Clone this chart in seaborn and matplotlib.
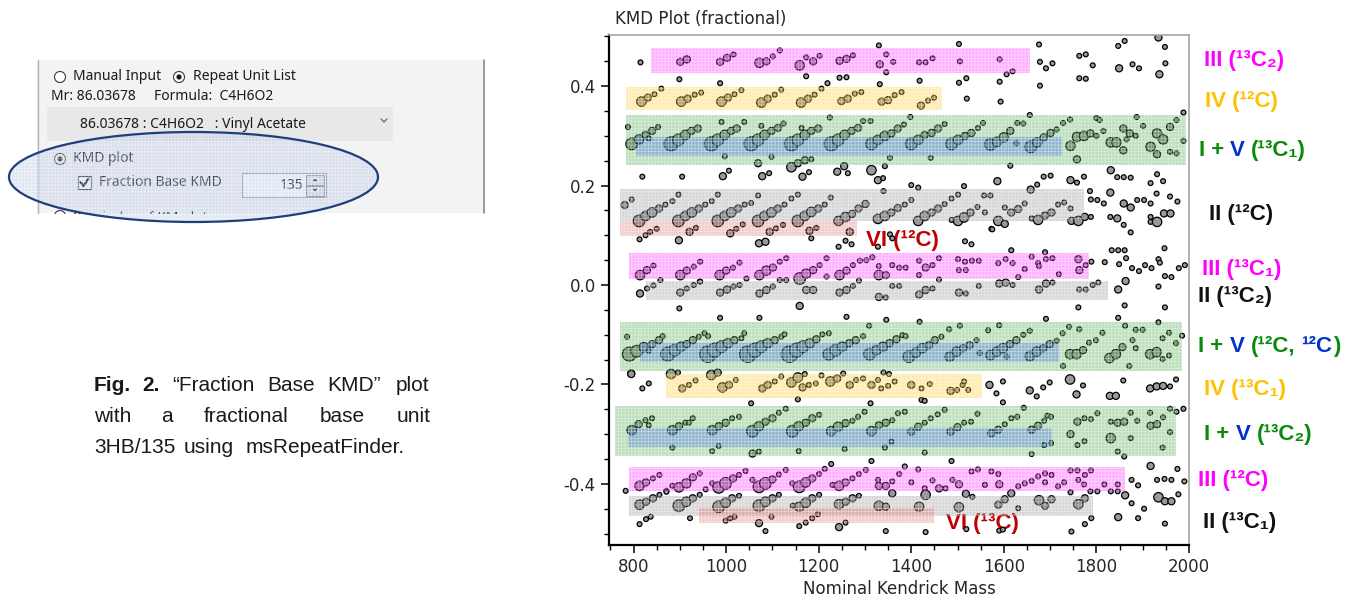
import matplotlib
matplotlib.use("Agg")
import matplotlib.pyplot as plt
import pandas as pd
import seaborn as sns
from matplotlib.patches import Rectangle, Ellipse, Circle, Polygon
from matplotlib.offsetbox import TextArea, HPacker, DrawingArea, AnnotationBbox
from matplotlib.ticker import MultipleLocator
from matplotlib.colors import to_rgba

# peaks: (nominal Kendrick mass, KMD, size level 1..6)
iii_13c2 = [
    (815, .448, 1), (901, .449, 2), (915, .454, 2), (899, .414, 1), (987, .449, 2), (1002, .457, 2),
    (1016, .464, 1), (987, .406, 1), (1072, .447, 3), (1087, .450, 2), (1101, .460, 1), (1116, .472, 1),
    (1159, .442, 3), (1173, .458, 1), (1188, .450, 2), (1202, .461, 1), (1173, .420, 1), (1245, .451, 2),
    (1260, .455, 2), (1274, .462, 1), (1245, .417, 1), (1260, .418, 1), (1330, .482, 1), (1346, .464, 1),
    (1332, .444, 2), (1361, .449, 1), (1346, .428, 1), (1332, .404, 1), (1417, .448, 1), (1431, .448, 1),
    (1446, .456, 1), (1418, .411, 1), (1503, .485, 1), (1505, .450, 1), (1503, .407, 1), (1519, .416, 1),
    (1520, .375, 1), (1591, .454, 1), (1606, .424, 1), (1619, .430, 1), (1591, .409, 1), (1593, .369, 1),
    (1676, .484, 1), (1678, .449, 1), (1691, .436, 1), (1705, .446, 1), (1678, .401, 1), (1763, .461, 1),
    (1777, .464, 1), (1792, .442, 1), (1763, .416, 1), (1777, .415, 1), (1847, .481, 1), (1861, .491, 1),
    (1849, .436, 2), (1878, .444, 1), (1892, .436, 1), (1936, .424, 2), (1934, .498, 2), (1948, .479, 1),
    (1949, .446, 1),
]
iv_12c = [
    (817, .369, 3), (831, .377, 2), (845, .384, 1), (860, .395, 1), (903, .369, 3), (917, .375, 2),
    (932, .383, 1), (946, .387, 1), (990, .369, 3), (1004, .377, 2), (1018, .384, 1), (1033, .392, 1),
    (1076, .367, 3), (1090, .375, 2), (1105, .383, 1), (1119, .393, 1), (1162, .367, 3), (1177, .375, 2),
    (1191, .383, 1), (1206, .395, 1), (1219, .406, 1), (1249, .370, 2), (1263, .375, 2), (1278, .385, 1),
    (1292, .388, 1), (1336, .369, 2), (1350, .372, 2), (1364, .382, 1), (1379, .388, 1), (1421, .361, 2),
    (1436, .371, 1), (1449, .377, 1),
]
i_v_13c1 = [
    (788, .318, 1), (796, .284, 4), (812, .293, 3), (826, .302, 2), (833, .295, 1), (840, .310, 2),
    (853, .318, 1), (819, .218, 1), (881, .284, 5), (897, .292, 4), (912, .302, 3), (925, .310, 2),
    (939, .315, 2), (905, .218, 1), (968, .284, 5), (982, .292, 4), (997, .302, 3), (1011, .310, 2),
    (1023, .315, 2), (990, .328, 1), (1039, .328, 1), (997, .259, 1), (993, .219, 2), (1006, .230, 1),
    (1054, .284, 5), (1069, .292, 4), (1083, .302, 3), (1098, .310, 2), (1112, .316, 2), (1124, .325, 1),
    (1076, .320, 1), (1098, .258, 1), (1069, .245, 2), (1078, .219, 2), (1093, .225, 1), (1141, .284, 5),
    (1155, .292, 4), (1170, .302, 3), (1184, .310, 2), (1199, .315, 2), (1163, .316, 1), (1141, .237, 3),
    (1155, .245, 2), (1170, .251, 2), (1184, .253, 1), (1165, .218, 2), (1179, .227, 1), (1224, .337, 1),
    (1227, .284, 5), (1242, .292, 4), (1256, .302, 3), (1271, .310, 2), (1285, .316, 2), (1296, .330, 1),
    (1312, .330, 1), (1240, .228, 2), (1255, .239, 2), (1263, .225, 1), (1314, .284, 4), (1328, .292, 3),
    (1343, .300, 3), (1357, .305, 2), (1371, .315, 2), (1384, .323, 1), (1398, .338, 1), (1354, .256, 1),
    (1343, .239, 1), (1314, .231, 3), (1328, .211, 2), (1339, .215, 1), (1400, .284, 4), (1415, .292, 3),
    (1429, .302, 2), (1444, .306, 2), (1458, .315, 2), (1472, .324, 1), (1442, .256, 1), (1487, .284, 4),
    (1501, .292, 3), (1516, .300, 2), (1530, .306, 2), (1544, .316, 1), (1555, .326, 1), (1571, .283, 4),
    (1585, .288, 3), (1600, .297, 3), (1614, .310, 2), (1629, .326, 1), (1642, .325, 1), (1627, .285, 1),
    (1656, .342, 1), (1614, .240, 1), (1658, .278, 4), (1672, .287, 3), (1686, .297, 2), (1701, .306, 2),
    (1714, .313, 1), (1728, .326, 1), (1743, .333, 1), (1744, .280, 3), (1758, .298, 3), (1773, .300, 3),
    (1787, .305, 2), (1800, .300, 1), (1800, .336, 1), (1807, .332, 1), (1758, .253, 2), (1815, .310, 1),
    (1831, .287, 3), (1843, .287, 3), (1858, .315, 2), (1865, .293, 1), (1872, .305, 2), (1885, .300, 1),
    (1887, .338, 1), (1901, .320, 1), (1858, .271, 2), (1917, .278, 3), (1931, .305, 3), (1944, .293, 3),
    (1959, .318, 2), (1973, .332, 1), (1988, .347, 1), (1931, .263, 2), (1959, .268, 1), (1973, .265, 1),
    (1988, .290, 1), (1586, .209, 2), (1658, .192, 2), (1672, .202, 1), (1686, .218, 1), (1701, .220, 1),
    (1744, .211, 2), (1758, .206, 1), (1773, .218, 1), (1831, .231, 2), (1845, .217, 1), (1859, .217, 1),
    (1874, .216, 1), (1917, .205, 1), (1931, .223, 1), (1944, .209, 1),
]
ii_12c = [
    (781, .161, 2), (796, .172, 1), (812, .129, 4), (826, .139, 3), (840, .146, 3), (855, .154, 2),
    (869, .162, 1), (884, .169, 1), (897, .182, 1), (813, .092, 1), (826, .100, 1), (836, .107, 1),
    (850, .113, 1), (898, .090, 2), (897, .129, 4), (912, .139, 3), (926, .146, 3), (941, .154, 2),
    (955, .162, 1), (969, .169, 1), (982, .182, 1), (921, .107, 2), (935, .115, 1), (982, .129, 4),
    (997, .139, 3), (1011, .146, 3), (1026, .154, 2), (1040, .162, 1), (1054, .165, 1), (1069, .180, 1),
    (1009, .104, 2), (1022, .113, 1), (1036, .122, 1), (1071, .084, 2), (1085, .087, 2), (1069, .129, 4),
    (1083, .139, 3), (1098, .146, 3), (1112, .154, 2), (1126, .162, 1), (1141, .174, 1), (1155, .182, 1),
    (1094, .107, 2), (1108, .114, 1), (1123, .121, 1), (1155, .129, 4), (1170, .139, 3), (1184, .147, 3),
    (1199, .154, 2), (1213, .162, 1), (1226, .176, 1), (1180, .109, 2), (1195, .115, 1), (1184, .094, 1),
    (1243, .129, 3), (1258, .137, 3), (1272, .143, 2), (1286, .154, 2), (1301, .163, 2), (1267, .107, 2),
    (1243, .077, 1), (1258, .089, 1), (1271, .082, 1), (1328, .133, 3), (1343, .139, 3), (1357, .146, 2),
    (1371, .155, 2), (1386, .162, 1), (1400, .171, 1), (1340, .189, 1), (1354, .102, 1), (1359, .094, 1),
    (1328, .077, 1), (1400, .201, 1), (1415, .196, 1), (1415, .129, 3), (1429, .139, 3), (1444, .146, 2),
    (1458, .154, 2), (1472, .163, 1), (1487, .174, 1), (1501, .182, 1), (1514, .199, 1), (1516, .088, 1),
    (1530, .082, 1), (1501, .129, 3), (1514, .136, 3), (1528, .146, 2), (1543, .157, 1), (1557, .180, 1),
    (1571, .180, 1), (1559, .146, 1), (1487, .131, 1), (1573, .113, 1), (1588, .129, 3), (1602, .123, 2),
    (1602, .156, 1), (1616, .146, 2), (1631, .153, 2), (1645, .164, 1), (1575, .112, 1), (1660, .134, 1),
    (1674, .131, 3), (1689, .140, 2), (1703, .146, 2), (1717, .162, 1), (1730, .166, 1), (1744, .154, 1),
    (1746, .129, 2), (1761, .129, 3), (1775, .137, 2), (1788, .137, 1), (1786, .189, 1), (1788, .172, 1),
    (1802, .171, 1), (1816, .164, 1), (1830, .186, 2), (1830, .137, 1), (1845, .134, 2), (1859, .164, 2),
    (1874, .156, 2), (1888, .171, 1), (1903, .171, 1), (1917, .164, 1), (1859, .121, 1), (1874, .106, 1),
    (1917, .137, 1), (1917, .127, 1), (1931, .127, 3), (1930, .184, 1), (1946, .144, 2), (1960, .144, 2),
    (1959, .178, 1), (1975, .168, 1),
]
iii_13c1 = [
    (814, .020, 3), (829, .030, 2), (843, .039, 1), (858, .010, 1), (901, .020, 3), (915, .029, 2),
    (930, .037, 1), (944, .047, 1), (943, .007, 1), (986, .020, 3), (1000, .029, 2), (1015, .035, 1),
    (1029, .045, 1), (1044, .013, 1), (1072, .020, 3), (1087, .029, 3), (1101, .035, 2), (1116, .047, 1),
    (1130, .054, 1), (1116, .010, 1), (1130, .010, 1), (1159, .013, 4), (1173, .023, 3), (1188, .030, 2),
    (1202, .040, 1), (1217, .054, 1), (1217, .017, 1), (1245, .020, 3), (1260, .029, 2), (1274, .040, 1),
    (1289, .049, 1), (1303, .050, 1), (1316, .056, 1), (1330, .020, 3), (1345, .020, 2), (1330, .038, 1),
    (1359, .040, 1), (1374, .035, 1), (1388, .035, 1), (1417, .020, 1), (1417, .049, 1), (1431, .035, 2),
    (1446, .040, 1), (1460, .054, 1), (1503, .030, 1), (1501, .052, 1), (1518, .030, 1), (1516, .047, 1),
    (1531, .049, 1), (1546, .049, 1), (1588, .044, 1), (1604, .052, 1), (1616, .070, 1), (1619, .044, 1),
    (1631, .016, 1), (1645, .032, 1), (1660, .057, 1), (1674, .044, 1), (1676, .038, 1), (1689, .066, 1),
    (1691, .052, 1), (1705, .054, 1), (1719, .022, 1), (1761, .052, 2), (1763, .030, 2), (1777, .040, 1),
    (1789, .047, 1), (1818, .046, 1), (1833, .070, 1), (1847, .070, 1), (1861, .070, 1), (1849, .042, 1),
    (1864, .054, 1), (1877, .034, 1), (1892, .028, 1), (1905, .040, 1), (1919, .034, 1), (1934, .052, 1),
    (1937, .045, 1), (1947, .074, 1), (1948, .018, 1), (1962, .016, 1), (1978, .034, 1), (1991, .040, 1),
]
ii_13c2 = [
    (814, -.017, 2), (829, -.007, 1), (843, -.001, 1), (899, -.047, 1), (901, -.015, 2), (915, -.007, 1),
    (930, .000, 1), (944, .007, 1), (987, -.015, 2), (1002, -.009, 2), (1016, -.003, 1), (1029, .000, 1),
    (987, -.066, 1), (1072, -.017, 2), (1087, -.010, 2), (1101, -.003, 1), (1159, -.042, 2), (1173, -.010, 2),
    (1188, -.010, 2), (1245, -.015, 2), (1260, -.010, 2), (1274, -.002, 1), (1287, .009, 1), (1260, -.064, 1),
    (1330, -.024, 2), (1345, -.025, 1), (1359, -.002, 1), (1374, -.002, 1), (1346, -.070, 1), (1417, -.019, 2),
    (1431, -.010, 2), (1446, -.007, 1), (1460, .011, 1), (1418, -.074, 1), (1503, -.015, 2), (1518, -.017, 1),
    (1546, -.002, 1), (1072, -.066, 1), (1590, .003, 2), (1604, .005, 2), (1619, .000, 1), (1676, -.009, 2),
    (1691, .003, 2), (1705, .005, 1), (1763, -.009, 1), (1777, -.009, 1), (1792, .000, 1), (1804, .005, 1),
    (1847, -.009, 2), (1863, .008, 2), (1934, -.003, 1), (1761, -.045, 1), (1861, -.041, 1), (1948, -.045, 1),
    (1691, -.068, 1), (1847, -.066, 1),
]
i_v_12c = [
    (786, -.104, 1), (791, -.139, 5), (807, -.133, 4), (822, -.125, 3), (833, -.132, 1), (840, -.119, 2),
    (855, -.111, 2), (863, -.103, 1), (795, -.178, 2), (874, -.139, 5), (889, -.131, 4), (903, -.124, 3),
    (915, -.119, 2), (928, -.111, 2), (941, -.104, 1), (953, -.097, 1), (961, -.103, 1), (961, -.139, 6),
    (975, -.131, 5), (990, -.124, 4), (1004, -.117, 3), (1018, -.111, 2), (1033, -.107, 1), (1039, -.097, 1),
    (1047, -.139, 6), (1062, -.131, 5), (1076, -.124, 4), (1090, -.117, 3), (1105, -.111, 2), (1119, -.104, 1),
    (1126, -.099, 1), (1137, -.139, 6), (1152, -.131, 5), (1166, -.124, 4), (1181, -.117, 3), (1195, -.109, 2),
    (1208, -.099, 1), (1222, -.097, 1), (1222, -.139, 4), (1237, -.131, 4), (1251, -.124, 3), (1266, -.117, 2),
    (1280, -.111, 2), (1296, -.103, 1), (1309, -.082, 1), (1310, -.139, 4), (1325, -.131, 3), (1339, -.124, 3),
    (1353, -.117, 2), (1368, -.109, 2), (1381, -.101, 1), (1388, -.103, 1), (1395, -.144, 4), (1410, -.136, 3),
    (1424, -.127, 3), (1438, -.121, 2), (1451, -.111, 2), (1465, -.104, 1), (1482, -.089, 1), (1505, -.082, 1),
    (1483, -.144, 3), (1498, -.134, 3), (1512, -.127, 2), (1526, -.121, 2), (1541, -.111, 1), (1548, -.137, 1),
    (1566, -.091, 1), (1590, -.081, 1), (1571, -.141, 3), (1585, -.134, 3), (1598, -.127, 3), (1613, -.119, 2),
    (1627, -.111, 2), (1642, -.100, 1), (1656, -.092, 1), (1606, -.144, 1), (1656, -.143, 3), (1671, -.134, 3),
    (1685, -.127, 2), (1699, -.119, 2), (1714, -.112, 1), (1728, -.163, 1), (1727, -.097, 1), (1741, -.084, 1),
    (1743, -.139, 3), (1757, -.139, 3), (1771, -.131, 2), (1784, -.116, 1), (1799, -.111, 1), (1763, -.089, 1),
    (1813, -.096, 1), (1828, -.147, 3), (1842, -.139, 3), (1856, -.125, 2), (1871, -.163, 1), (1878, -.111, 1),
    (1885, -.090, 1), (1900, -.090, 1), (1862, -.082, 1), (1885, -.127, 1), (1916, -.139, 3), (1930, -.135, 3),
    (1943, -.149, 1), (1957, -.142, 1), (1943, -.107, 1), (1957, -.096, 1), (1934, -.075, 1), (1972, -.117, 1),
    (1985, -.102, 1),
]
iv_13c1 = [
    (795, -.179, 2), (819, -.208, 1), (833, -.198, 1), (881, -.179, 3), (896, -.176, 1), (905, -.208, 2),
    (920, -.201, 1), (934, -.192, 1), (968, -.181, 3), (982, -.176, 2), (992, -.206, 3), (1006, -.201, 2),
    (1021, -.191, 1), (1054, -.238, 1), (1078, -.208, 2), (1090, -.201, 2), (1105, -.194, 1), (1119, -.184, 1),
    (1141, -.196, 3), (1155, -.186, 3), (1165, -.206, 2), (1179, -.201, 1), (1194, -.198, 1), (1170, -.179, 1),
    (1155, -.230, 1), (1206, -.182, 1), (1225, -.194, 3), (1240, -.188, 2), (1253, -.178, 1), (1267, -.201, 2),
    (1281, -.191, 1), (1296, -.188, 1), (1314, -.201, 2), (1328, -.191, 1), (1340, -.176, 1), (1352, -.179, 1),
    (1335, -.208, 1), (1350, -.203, 1), (1364, -.194, 1), (1400, -.201, 2), (1422, -.208, 1), (1422, -.231, 1),
    (1429, -.233, 1), (1440, -.199, 1), (1485, -.213, 2), (1499, -.211, 1), (1511, -.201, 1), (1514, -.194, 1),
    (1523, -.211, 1), (1569, -.201, 2), (1584, -.218, 1), (1312, -.238, 1), (1598, -.194, 1), (1598, -.236, 1),
    (1656, -.212, 2), (1671, -.224, 1), (1685, -.206, 1), (1699, -.196, 1), (1743, -.190, 3), (1757, -.220, 2),
    (1771, -.202, 1), (1829, -.223, 2), (1842, -.223, 2), (1858, -.192, 1), (1916, -.208, 2), (1930, -.204, 2),
    (1944, -.203, 2), (1959, -.204, 1), (1972, -.190, 1),
]
i_v_13c2 = [
    (796, -.292, 3), (811, -.280, 2), (826, -.272, 1), (833, -.282, 1), (840, -.268, 1), (884, -.292, 3),
    (898, -.284, 2), (912, -.277, 1), (920, -.277, 1), (928, -.268, 1), (884, -.327, 1), (970, -.292, 3),
    (984, -.284, 2), (999, -.277, 2), (1013, -.268, 1), (1028, -.265, 1), (970, -.334, 1), (984, -.324, 1),
    (1057, -.294, 4), (1071, -.284, 3), (1085, -.275, 2), (1100, -.268, 2), (1114, -.257, 1), (1129, -.249, 1),
    (1057, -.339, 2), (1071, -.335, 1), (1143, -.294, 4), (1157, -.284, 3), (1172, -.277, 2), (1186, -.268, 2),
    (1201, -.261, 1), (1157, -.334, 1), (1227, -.294, 3), (1242, -.285, 3), (1258, -.278, 2), (1273, -.273, 1),
    (1285, -.265, 1), (1299, -.255, 1), (1256, -.330, 1), (1314, -.294, 3), (1330, -.282, 2), (1345, -.277, 2),
    (1359, -.272, 1), (1371, -.258, 1), (1386, -.255, 1), (1343, -.327, 1), (1357, -.315, 1), (1400, -.295, 2),
    (1415, -.285, 2), (1429, -.277, 1), (1442, -.268, 1), (1457, -.260, 1), (1472, -.251, 1), (1429, -.337, 1),
    (1485, -.295, 2), (1500, -.286, 2), (1514, -.277, 1), (1529, -.275, 1), (1543, -.259, 1), (1487, -.354, 1),
    (1573, -.298, 2), (1588, -.291, 2), (1602, -.280, 1), (1616, -.268, 1), (1629, -.265, 1), (1643, -.247, 1),
    (1660, -.291, 2), (1674, -.283, 2), (1687, -.273, 1), (1694, -.263, 1), (1702, -.265, 1), (1687, -.322, 1),
    (1702, -.318, 1), (1660, -.340, 1), (1744, -.300, 2), (1759, -.275, 2), (1774, -.268, 1), (1788, -.270, 1),
    (1802, -.258, 1), (1759, -.322, 1), (1774, -.314, 1), (1831, -.308, 3), (1846, -.277, 2), (1860, -.275, 2),
    (1831, -.275, 1), (1874, -.308, 1), (1846, -.335, 1), (1860, -.345, 1), (1874, -.257, 1), (1888, -.273, 1),
    (1917, -.283, 2), (1931, -.280, 2), (1916, -.257, 1), (1944, -.266, 1), (1943, -.327, 1), (1959, -.296, 1),
    (1959, -.249, 1), (1973, -.255, 1), (1988, -.249, 1),
]
iii_12c = [
    (783, -.414, 1), (813, -.404, 3), (827, -.397, 2), (842, -.389, 1), (856, -.382, 1), (871, -.414, 1),
    (884, -.404, 1), (898, -.407, 3), (914, -.399, 3), (928, -.387, 2), (943, -.379, 1), (956, -.411, 1),
    (970, -.399, 1), (984, -.407, 4), (999, -.399, 4), (1015, -.389, 2), (1028, -.382, 1), (1042, -.374, 1),
    (1057, -.392, 1), (1071, -.406, 4), (1085, -.399, 4), (1100, -.391, 2), (1114, -.381, 1), (1129, -.372, 1),
    (1143, -.399, 1), (1158, -.406, 4), (1172, -.397, 3), (1186, -.389, 2), (1201, -.380, 1), (1213, -.370, 1),
    (1227, -.360, 1), (1230, -.402, 1), (1244, -.404, 3), (1258, -.397, 2), (1273, -.389, 1), (1287, -.380, 1),
    (1302, -.372, 1), (1314, -.354, 1), (1328, -.392, 1), (1330, -.404, 2), (1345, -.404, 2), (1359, -.395, 1),
    (1374, -.380, 1), (1386, -.365, 1), (1359, -.419, 2), (1400, -.397, 1), (1415, -.371, 1), (1429, -.409, 1),
    (1431, -.422, 3), (1446, -.393, 1), (1460, -.409, 2), (1474, -.409, 1), (1489, -.392, 1), (1503, -.401, 2),
    (1518, -.420, 2), (1532, -.426, 1), (1530, -.375, 1), (1544, -.371, 1), (1559, -.402, 1), (1573, -.375, 1),
    (1588, -.380, 1), (1590, -.401, 2), (1616, -.419, 2), (1631, -.405, 1), (1645, -.399, 1), (1660, -.394, 1),
    (1674, -.385, 1), (1689, -.397, 1), (1689, -.379, 1), (1703, -.382, 1), (1717, -.405, 1), (1730, -.397, 1),
    (1744, -.417, 1), (1744, -.373, 1), (1759, -.373, 1), (1761, -.392, 1), (1773, -.401, 1), (1775, -.382, 1),
    (1788, -.373, 1), (1787, -.415, 1), (1802, -.415, 1), (1817, -.401, 1), (1831, -.415, 1), (1846, -.401, 1),
    (1846, -.415, 1), (1862, -.423, 2), (1876, -.392, 1), (1890, -.403, 1), (1917, -.364, 2), (1931, -.392, 1),
    (1947, -.390, 1), (1962, -.392, 1), (1975, -.370, 1), (1990, -.395, 1),
]
ii_13c1 = [
    (813, -.442, 3), (827, -.436, 2), (842, -.429, 2), (856, -.422, 1), (871, -.416, 1), (898, -.444, 4),
    (914, -.436, 3), (928, -.429, 2), (943, -.422, 1), (922, -.469, 1), (813, -.481, 1), (827, -.471, 1),
    (837, -.466, 1), (984, -.446, 4), (999, -.438, 3), (1013, -.429, 2), (1028, -.424, 1), (999, -.474, 1),
    (1009, -.469, 1), (1018, -.466, 1), (1071, -.444, 4), (1085, -.436, 3), (1100, -.429, 2), (1114, -.422, 1),
    (1071, -.479, 2), (1085, -.495, 1), (1098, -.466, 1), (1158, -.446, 3), (1172, -.438, 3), (1186, -.429, 2),
    (1201, -.422, 1), (1158, -.485, 1), (1172, -.478, 1), (1186, -.469, 1), (1198, -.461, 1), (1144, -.444, 1),
    (1244, -.441, 3), (1258, -.436, 2), (1273, -.429, 2), (1287, -.424, 1), (1244, -.487, 2), (1258, -.478, 1),
    (1330, -.444, 3), (1345, -.446, 2), (1345, -.495, 1), (1417, -.446, 3), (1431, -.497, 1), (1503, -.447, 3),
    (1519, -.491, 1), (1588, -.442, 2), (1602, -.431, 2), (1631, -.449, 1), (1676, -.433, 3), (1689, -.444, 2),
    (1703, -.431, 2), (1761, -.441, 3), (1775, -.429, 2), (1789, -.469, 1), (1775, -.481, 1), (1746, -.496, 1),
    (1847, -.467, 2), (1876, -.439, 1), (1890, -.469, 1), (1903, -.450, 1), (1934, -.427, 3), (1948, -.435, 2),
    (1962, -.435, 2), (1977, -.421, 1), (1948, -.480, 1), (1590, -.494, 1), (1598, -.492, 1),
]
level_sizes = {1: 12, 2: 26, 3: 46, 4: 70, 5: 100, 6: 140}

# series regions: (mass from, mass to, KMD from, KMD to, colour)
bands = [
    (837, 1656, .426, .476, "#FF00FF"),
    (783, 1466, .352, .399, "#FFC000"),
    (783, 1994, .242, .342, "#2E9B2E"),
    (805, 1726, .259, .298, "#2255DD"),
    (770, 1773, .128, .194, "#7F7F7F"),
    (770, 1282, .098, .128, "#D03030"),
    (791, 1784, .012, .065, "#FF00FF"),
    (826, 1825, -.031, .008, "#7F7F7F"),
    (771, 1985, -.172, -.074, "#2E9B2E"),
    (813, 1719, -.154, -.116, "#2255DD"),
    (871, 1552, -.228, -.178, "#FFC000"),
    (759, 1971, -.344, -.244, "#2E9B2E"),
    (788, 1705, -.326, -.287, "#2255DD"),
    (790, 1861, -.415, -.367, "#FF00FF"),
    (791, 1792, -.464, -.425, "#7F7F7F"),
    (941, 1449, -.479, -.449, "#D03030"),
]

MAG, ORA, GRE, BLU, BLK, RED = "#FF00FF", "#FFC000", "#0A8A0A", "#0033CC", "#111111", "#C00000"
# series labels right of the plot: (KMD, x in axes fraction, [(text, colour)])
right_labels = [
    (.452, 1.026, [("III (\u00b9\u00b3C\u2082)", MAG)]),
    (.370, 1.028, [("IV (\u00b9\u00b2C)", ORA)]),
    (.271, 1.017, [("I +", GRE), (" V", BLU), (" (\u00b9\u00b3C\u2081)", GRE)]),
    (.141, 1.034, [("II (\u00b9\u00b2C)", BLK)]),
    (.032, 1.022, [("III (\u00b9\u00b3C\u2081)", MAG)]),
    (-.024, 1.016, [("II (\u00b9\u00b3C\u2082)", BLK)]),
    (-.123, 1.016, [("I +", GRE), (" V", BLU), (" (\u00b9\u00b2C,", GRE), (" \u00b9\u00b2C", BLU), (")", GRE)]),
    (-.211, 1.026, [("IV (\u00b9\u00b3C\u2081)", ORA)]),
    (-.300, 1.026, [("I +", GRE), (" V", BLU), (" (\u00b9\u00b3C\u2082)", GRE)]),
    (-.394, 1.016, [("III (\u00b9\u00b2C)", MAG)]),
    (-.478, 1.024, [("II (\u00b9\u00b3C\u2081)", BLK)]),
]
inner_labels = [(1302, .090, "VI (\u00b9\u00b2C)"), (1475, -.480, "VI (\u00b9\u00b3C)")]

sns.set_style("ticks")
plt.rcParams["font.family"] = ["DejaVu Sans"]
plt.rcParams["axes.unicode_minus"] = False
plt.rcParams["hatch.linewidth"] = 0.4

groups = [iii_13c2, iv_12c, i_v_13c1, ii_12c, iii_13c1, ii_13c2, i_v_12c, iv_13c1, i_v_13c2, iii_12c, ii_13c1]
df = pd.DataFrame([p for g in groups for p in g], columns=["mass", "kmd", "level"])

W, H = 1347, 603
fig = plt.figure(figsize=(W / 100, H / 100), dpi=100)
ui = fig.add_axes([0, 0, 1, 1])
ui.set_xlim(0, W)
ui.set_ylim(H, 0)
ui.axis("off")
ui.set_zorder(0)

ax = fig.add_axes([609 / W, 58 / H, 580 / W, 510 / H])
ax.set_zorder(1)
sns.scatterplot(data=df, x="mass", y="kmd", size="level", sizes=level_sizes, color="#9A9A9A",
                edgecolor="black", linewidth=0.9, legend=False, ax=ax, zorder=2)
for x0, x1, y0, y1, c in bands:
    a = 0.24 if c == "#D03030" else 0.3
    ax.add_patch(Rectangle((x0, y0), x1 - x0, y1 - y0, facecolor=to_rgba(c, a),
                           edgecolor=(1, 1, 1, 0.45), hatch="+++++", lw=0, zorder=3))

ax.set_xlim(747, 2000)
ax.set_ylim(-0.523, 0.503)
ax.xaxis.set_major_locator(MultipleLocator(200))
ax.xaxis.set_minor_locator(MultipleLocator(50))
ax.yaxis.set_major_locator(MultipleLocator(0.2))
ax.yaxis.set_minor_locator(MultipleLocator(0.05))
ax.yaxis.set_major_formatter(plt.FuncFormatter(lambda v, p: f"{v:.1f}"))
ax.tick_params(which="major", length=6, width=1.1, labelsize=12, color="black")
ax.tick_params(which="minor", length=3.5, width=1.0, color="black")
ax.set_xlabel("Nominal Kendrick Mass", fontsize=12, labelpad=3)
ax.set_ylabel("")
for s in ("left", "bottom"):
    ax.spines[s].set_color("black")
    ax.spines[s].set_linewidth(1.6)
for s in ("top", "right"):
    ax.spines[s].set_color("#A6A6A6")
    ax.spines[s].set_linewidth(1.2)
fig.text(615 / W, 1 - 19 / H, "KMD Plot (fractional)", fontsize=12, va="center", ha="left")

lab_font = dict(fontsize=16, fontweight="bold", family=["Liberation Sans", "DejaVu Sans"])
for kmd, xf, runs in right_labels:
    kids = []
    for txt, col in runs:
        if txt.startswith(" "):
            kids.append(DrawingArea(4.5, 1))
            txt = txt.lstrip()
        kids.append(TextArea(txt, textprops=dict(color=col, **lab_font)))
    box = HPacker(children=kids, align="baseline", pad=0, sep=0)
    ab = AnnotationBbox(box, (xf, kmd), xycoords=ax.get_yaxis_transform(), box_alignment=(0, 0.5),
                        frameon=False, pad=0, annotation_clip=False)
    ab.set_clip_on(False)
    ax.add_artist(ab)
for m, k, txt in inner_labels:
    ax.text(m, k, txt, color=RED, va="center", ha="left", zorder=1.5, **lab_font)

# ---- software panel (left)
ui_font = dict(fontsize=10, family=["Noto Sans", "DejaVu Sans"], color="#1A1A1A", va="center")
ui.add_patch(Rectangle((37, 60), 447, 153, facecolor="#F3F3F3", edgecolor="none", zorder=1))
ui.plot([37.5, 37.5], [60, 213], color="#B4B4B4", lw=1, zorder=2)
ui.plot([484, 484], [60, 213], color="#8A8A8A", lw=1.2, zorder=2)
for cx, cy, on in [(60, 77, False), (179, 77, True), (60, 159, True), (60, 216, False)]:
    ui.add_patch(Circle((cx, cy), 5.5, facecolor="white", edgecolor="#3A3A3A", lw=0.8, zorder=2))
    if on:
        ui.add_patch(Circle((cx, cy), 2.6, facecolor="#1A1A1A", edgecolor="none", zorder=3))
ui.text(73, 77, "Manual Input", **ui_font)
ui.text(193, 77, "Repeat Unit List", **ui_font)
ui.text(51, 96, "Mr: 86.03678", **ui_font)
ui.text(154, 96, "Formula:  C4H6O2", **ui_font)
ui.add_patch(Rectangle((47, 107), 346, 34, facecolor="#E8E8E8", edgecolor="none", zorder=1.5))
ui.text(80, 125, "86.03678 : C4H6O2   : Vinyl Acetate", **ui_font)
ui.plot([381, 384, 387], [119, 122, 119], color="#666666", lw=0.9, zorder=2)
ui.text(73, 159, "KMD plot", **ui_font)
ui.add_patch(Rectangle((78, 176), 12.5, 12.5, facecolor="white", edgecolor="#3A3A3A", lw=0.8, zorder=2))
ui.plot([80.5, 83.5, 88.5], [182, 186, 178.5], color="#111111", lw=1.6, zorder=3)
ui.text(99, 183, "Fraction Base KMD", **ui_font)
ui.add_patch(Rectangle((242, 173), 84, 24, facecolor="white", edgecolor="#A8A8A8", lw=0.8, zorder=2))
ui.text(303, 185.5, "135", ha="right", **ui_font)
for top in (174.5, 185.5):
    ui.add_patch(Rectangle((306, top), 18, 10.5, facecolor="#E4E4E4", edgecolor="#7A7A7A", lw=0.6, zorder=3))
ui.add_patch(Polygon([(311, 182), (319, 182), (315, 177)], facecolor="#222222", zorder=4))
ui.add_patch(Polygon([(311, 188), (319, 188), (315, 193)], facecolor="#222222", zorder=4))
ui.text(73, 218, "Reminder of KM plot", **ui_font)
ui.add_patch(Rectangle((20, 213.5), 480, 30, facecolor="white", edgecolor="none", zorder=4))
ui.add_patch(Ellipse((193.5, 177), 369, 90, facecolor=to_rgba("#9DB3DD", 0.3),
                     edgecolor=(1, 1, 1, 0.5), hatch="+++++", lw=0, zorder=5))
ui.add_patch(Ellipse((193.5, 177), 369, 90, facecolor="none", edgecolor="#1F3F7A", lw=1.6, zorder=6))

# ---- caption, justified word by word
cap = dict(fontsize=15, family=["Liberation Sans", "DejaVu Sans"], color="#1A1A1A", va="baseline")
ui.text(94, 391, "Fig.", fontweight="bold", **cap)
ui.text(142, 391, "2.", fontweight="bold", **cap)
for x, w in [(172, "\u201cFraction"), (267, "Base"), (327, "KMD\u201d"), (396, "plot")]:
    ui.text(x, 391, w, **cap)
for x, w in [(94, "with"), (161, "a"), (204, "fractional"), (320, "base"), (397, "unit")]:
    ui.text(x, 422, w, **cap)
for x, w in [(94, "3HB/135"), (184, "using"), (246, "msRepeatFinder.")]:
    ui.text(x, 453, w, **cap)

fig.savefig("out.png", dpi=100, facecolor="white")
